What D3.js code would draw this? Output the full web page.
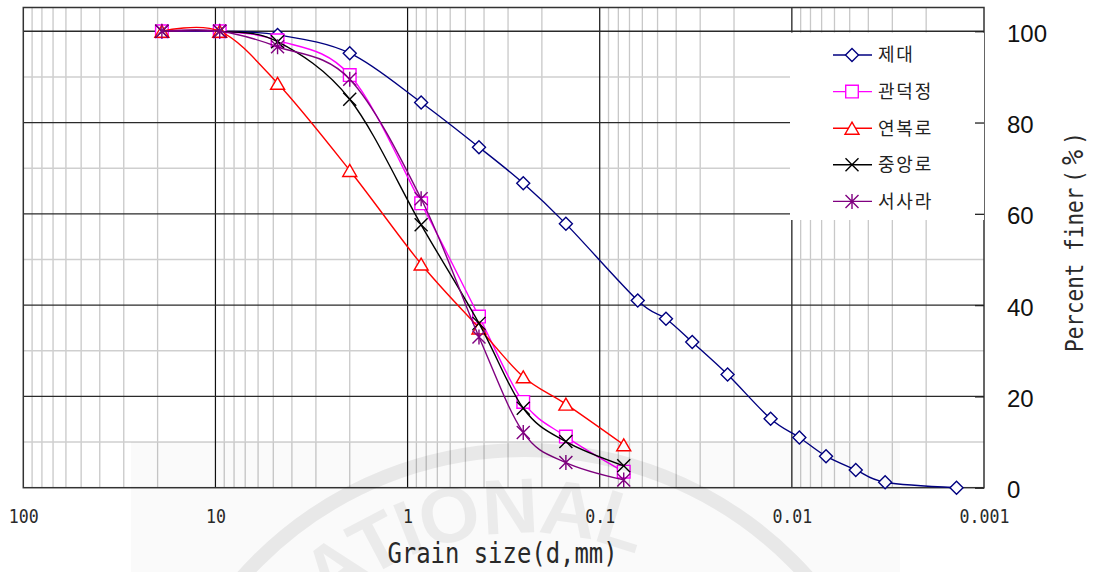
<!DOCTYPE html>
<html>
<head>
<meta charset="utf-8">
<script src="https://cdn.jsdelivr.net/npm/d3@7"></script>
<style>
  html, body { margin: 0; padding: 0; background: #fff; }
  svg { display: block; }
</style>
</head>
<body>
<svg id="chart" width="1094" height="572"></svg>
<script>
// Grain size distribution (sieve + hydrometer), percent finer by weight
const sieveSizes = [19, 9.5, 4.75, 2, 0.85, 0.425, 0.25, 0.15, 0.075];
const jedaeSizes = [19, 9.5, 4.75, 2, 0.85, 0.425, 0.25, 0.15,
                    0.0634, 0.0452, 0.033, 0.0216, 0.0129, 0.00914, 0.00664, 0.00465, 0.00327, 0.00139];
const jedaeFiner        = [100, 100, 99.2, 95.2, 84.4, 74.6, 66.7, 57.8,
                           41.0, 37.0, 31.9, 24.8, 15.1, 11.0, 6.9, 3.9, 1.2, 0.0];
const gwandeokjeongFiner = [100, 100, 98.0, 90.4, 62.3, 37.5, 18.8, 11.2, 3.5];
const yeonbokroFiner     = [100, 100, 88.6, 69.5, 49.0, 35.0, 24.3, 18.3, 9.4];
const jungangroFiner     = [100, 100, 97.7, 85.1, 57.6, 36.0, 17.4, 10.1, 4.8];
const seosaraFiner       = [100, 100, 96.6, 89.5, 63.3, 33.0, 12.1, 5.5, 1.7];

const seriesNames = ["제대", "관덕정", "연복로", "중앙로", "서사라"];
const xTickValues = [100, 10, 1, 0.1, 0.01, 0.001];
const xTickLabels = ["100", "10", "1", "0.1", "0.01", "0.001"];
const yTickValues = [0, 20, 40, 60, 80, 100];
const xTitle = "Grain size(d,mm)";
const yTitleMain = "Percent finer";
const yTitleUnit = ["(", "%", ")"];

const series = [
  { name: seriesNames[0], sizes: jedaeSizes, finer: jedaeFiner,         color: "#000080", marker: "diamond" },
  { name: seriesNames[1], sizes: sieveSizes, finer: gwandeokjeongFiner, color: "#ff00ff", marker: "square" },
  { name: seriesNames[2], sizes: sieveSizes, finer: yeonbokroFiner,     color: "#ff0000", marker: "triangle" },
  { name: seriesNames[3], sizes: sieveSizes, finer: jungangroFiner,     color: "#000000", marker: "cross" },
  { name: seriesNames[4], sizes: sieveSizes, finer: seosaraFiner,       color: "#800080", marker: "star" }
];

const svg = d3.select("#chart");
const W = 1094, H = 572;
const plot = { left: 23.3, right: 984, top: 7.5, bottom: 487.7 };

const x = d3.scaleLog().domain([100, 0.001]).range([plot.left, plot.right]);
const y = d3.scaleLinear().domain([0, 105.2]).range([plot.bottom, plot.top]);

svg.append("rect").attr("width", W).attr("height", H).attr("fill", "#fff");

// ---- grid ----
const grid = svg.append("g");
const minorX = d3.range(-3, 2).flatMap(e => d3.range(2, 10).map(m => +(m * Math.pow(10, e)).toPrecision(3)));
grid.selectAll("line.minor-x").data(minorX).join("line")
  .attr("x1", d => x(d)).attr("x2", d => x(d))
  .attr("y1", plot.top).attr("y2", plot.bottom)
  .attr("stroke", "#c8c8c8").attr("stroke-width", 1.3);
grid.selectAll("line.minor-y").data([10, 30, 50, 70, 90]).join("line")
  .attr("x1", plot.left).attr("x2", plot.right)
  .attr("y1", d => y(d)).attr("y2", d => y(d))
  .attr("stroke", "#cfcfcf").attr("stroke-width", 1.5);
grid.selectAll("line.major-x").data([10, 1, 0.1, 0.01]).join("line")
  .attr("x1", d => x(d)).attr("x2", d => x(d))
  .attr("y1", plot.top).attr("y2", plot.bottom)
  .attr("stroke", "#111").attr("stroke-width", 1.2);
grid.selectAll("line.major-y").data([20, 40, 60, 80, 100]).join("line")
  .attr("x1", plot.left).attr("x2", plot.right)
  .attr("y1", d => y(d)).attr("y2", d => y(d))
  .attr("stroke", "#2a2a2a").attr("stroke-width", 1.3);

svg.append("rect")
  .attr("x", plot.left).attr("y", plot.top)
  .attr("width", plot.right - plot.left).attr("height", plot.bottom - plot.top)
  .attr("fill", "none").attr("stroke", "#333").attr("stroke-width", 1.5);

// ---- markers ----
function markerPath(type) {
  switch (type) {
    case "diamond":  return "M0,-6.5L6.5,0L0,6.5L-6.5,0Z";
    case "square":   return "M-6.3,-6.3H6.3V6.3H-6.3Z";
    case "triangle": return "M0,-6L7,6H-7Z";
    case "cross":    return "M-6.5,-6.5L6.5,6.5M-6.5,6.5L6.5,-6.5";
    case "star":     return "M-6.5,-6.5L6.5,6.5M-6.5,6.5L6.5,-6.5M0,-7.5V7.5";
  }
}
const filled = t => (t === "diamond" || t === "square" || t === "triangle");

// ---- curves ----
const line = d3.line()
  .x(d => x(d[0])).y(d => y(d[1]))
  .curve(d3.curveCardinal.tension(0));

const layer = svg.append("g");
series.forEach(s => {
  const pts = s.sizes.map((d, i) => [d, s.finer[i]]);
  const g = layer.append("g");
  g.append("path").datum(pts)
    .attr("d", line)
    .attr("fill", "none").attr("stroke", s.color).attr("stroke-width", 1.4);
  g.selectAll("path.mk").data(pts).join("path")
    .attr("transform", d => `translate(${x(d[0])},${y(d[1])})`)
    .attr("d", markerPath(s.marker))
    .attr("fill", filled(s.marker) ? "#fff" : "none")
    .attr("stroke", s.color).attr("stroke-width", 1.4);
});

// ---- legend ----
const legend = svg.append("g");
legend.append("rect").attr("x", 790).attr("y", 32.6).attr("width", 194).attr("height", 187.4).attr("fill", "#fff");
series.forEach((s, i) => {
  const ly = 55 + i * 36.6;
  const g = legend.append("g").attr("transform", `translate(0,${ly})`);
  g.append("line").attr("x1", 833).attr("x2", 872).attr("y1", 0).attr("y2", 0)
    .attr("stroke", s.color).attr("stroke-width", 1.4);
  g.append("path").attr("transform", "translate(852,0)").attr("d", markerPath(s.marker))
    .attr("fill", filled(s.marker) ? "#fff" : "none")
    .attr("stroke", s.color).attr("stroke-width", 1.4);
  g.append("text").attr("x", 878).attr("y", 0).attr("dy", "0.35em")
    .attr("font-family", "'Noto Sans CJK KR', sans-serif").attr("font-size", 18)
    .attr("letter-spacing", 1.8).attr("fill", "#222").text(s.name);
});

// ---- axes ----
const xAxis = d3.axisBottom(x).tickValues(xTickValues)
  .tickFormat((d, i) => xTickLabels[i]).tickSize(0).tickPadding(0);
const gx = svg.append("g").attr("transform", `translate(0,${plot.bottom})`).call(xAxis);
gx.select(".domain").remove();
gx.selectAll("text")
  .attr("y", 523.3 - plot.bottom).attr("dy", null)
  .attr("transform", "scale(0.874,1)")
  .attr("font-family", "'DejaVu Sans Mono', monospace").attr("font-size", 19).attr("fill", "#2a2a2a");

const yAxis = d3.axisRight(y).tickValues(yTickValues).tickSize(-9).tickSizeOuter(0).tickPadding(23);
const gy = svg.append("g").attr("transform", `translate(${plot.right},0)`).call(yAxis);
gy.select(".domain").remove();
gy.selectAll(".tick line").attr("stroke", "#222").attr("stroke-width", 1.3);
gy.selectAll("text")
  .attr("dy", "0.42em")
  .attr("font-family", "'Liberation Sans', Arial, sans-serif").attr("font-size", 24).attr("fill", "#111");

svg.append("text")
  .attr("transform", "translate(502.5,563) scale(0.854,1)")
  .attr("text-anchor", "middle")
  .attr("font-family", "'DejaVu Sans Mono', monospace").attr("font-size", 28).attr("fill", "#2a2a2a")
  .text(xTitle);

const yt = svg.append("text")
  .attr("transform", "translate(1083,352) rotate(-90) scale(0.84,1)")
  .attr("text-anchor", "start")
  .attr("font-family", "'DejaVu Sans Mono', monospace").attr("font-size", 25).attr("fill", "#2a2a2a");
yt.append("tspan").text(yTitleMain);
yt.append("tspan").attr("dx", 6).text(yTitleUnit[0]);
yt.append("tspan").attr("dx", 6).attr("font-size", 30).text(yTitleUnit[1]);
yt.append("tspan").attr("dx", 6).text(yTitleUnit[2]);

// ---- faint seal in the lower background ----
const seal = svg.append("g").attr("pointer-events", "none");
seal.append("rect").attr("x", 131).attr("y", 442).attr("width", 769).attr("height", 130)
  .attr("fill", "#000").attr("fill-opacity", 0.018);
seal.append("circle").attr("cx", 525).attr("cy", 828).attr("r", 378)
  .attr("fill", "none").attr("stroke", "#000").attr("stroke-opacity", 0.07).attr("stroke-width", 14);
seal.append("path").attr("id", "sealArc")
  .attr("d", "M230,828 A295,295 0 0 1 820,828").attr("fill", "none");
seal.append("text")
  .attr("font-family", "'Liberation Sans', Arial, sans-serif").attr("font-weight", "bold")
  .attr("font-size", 78).attr("letter-spacing", -2)
  .attr("fill", "#000").attr("fill-opacity", 0.06)
  .append("textPath").attr("href", "#sealArc").attr("startOffset", 385).attr("text-anchor", "middle")
  .text("NATIONAL");
</script>
</body>
</html>
